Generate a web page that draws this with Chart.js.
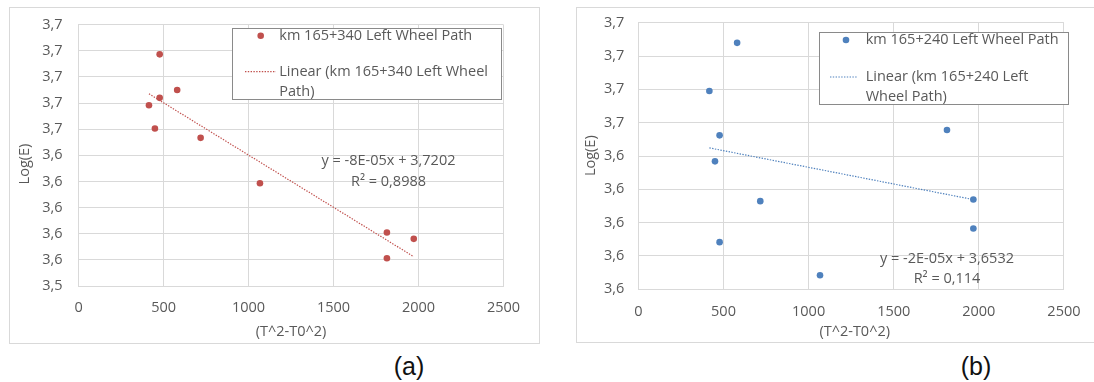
<!DOCTYPE html>
<html>
<head>
<meta charset="utf-8">
<script src="https://cdn.jsdelivr.net/npm/chart.js@4.4.1/dist/chart.umd.min.js"></script>
<style>
  html, body { margin: 0; padding: 0; background: #fff; }
  body { width: 1094px; height: 382px; position: relative; overflow: hidden; font-family: "Open Sans", sans-serif; }
  .frame { position: absolute; border: 1px solid #d9d9d9; box-sizing: border-box; }
  .wrap { position: absolute; top: 0; }
  .cap { position: absolute; font-family: "Liberation Sans", Arial, sans-serif; font-size: 25px; color: #111;
         transform: translateX(-50%); line-height: 1; white-space: nowrap; }
</style>
</head>
<body>
<div class="frame" style="left:9px;top:7px;width:531px;height:337px"></div>
<div class="frame" style="left:576px;top:7px;width:540px;height:336px"></div>
<div class="wrap" style="left:0;width:560px;height:350px"><canvas id="chartA" width="560" height="350"></canvas></div>
<div class="wrap" style="left:560px;width:534px;height:350px"><canvas id="chartB" width="534" height="350"></canvas></div>
<div class="cap" style="left:409px;top:354px">(a)</div>
<div class="cap" style="left:976px;top:354px">(b)</div>

<script>
// ---- data -------------------------------------------------------------
const xTickLabels = ['0', '500', '1000', '1500', '2000', '2500'];
const yTickLabelsA = ['3,5', '3,6', '3,6', '3,6', '3,6', '3,6', '3,7', '3,7', '3,7', '3,7', '3,7'];
const yTickLabelsB = ['3,6', '3,6', '3,6', '3,6', '3,6', '3,7', '3,7', '3,7', '3,7'];

const xRange = [0, 2500, 500];
const yRangeA = [3.54, 3.74, 0.02];
const yRangeB = [3.56, 3.72, 0.02];

// km 165+340, left wheel path
const xA = [414, 449, 477, 477, 580, 718, 1067, 1814, 1814, 1972];
const yA = [3.6784, 3.6605, 3.7173, 3.6840, 3.6900, 3.6534, 3.6186, 3.5810, 3.5612, 3.5761];
const fitA = [-8e-5, 3.7202];          // slope, intercept
const r2A = '0,8988';

// km 165+240, left wheel path
const xB = [417, 450, 477, 477, 580, 716, 1067, 1813, 1968, 1968];
const yB = [3.6790, 3.6368, 3.6524, 3.5883, 3.7079, 3.6129, 3.5684, 3.6556, 3.6139, 3.5965];
const fitB = [-2e-5, 3.6532];
const r2B = '0,114';

const nameA = 'km 165+340 Left Wheel Path';
const nameB = 'km 165+240 Left Wheel Path';
const xTitle = '(T^2-T0^2)';
const yTitle = 'Log(E)';

// ---- helpers ----------------------------------------------------------
const FONT = '"Open Sans", sans-serif';
const TEXT = '#595959';
const GRID = '#d9d9d9';

function points(xs, ys) { return xs.map((x, i) => ({ x: x, y: ys[i] })); }
function fitLine(xs, fit) {
  const lo = Math.min(...xs), hi = Math.max(...xs);
  return [{ x: lo, y: fit[1] + fit[0] * lo }, { x: hi, y: fit[1] + fit[0] * hi }];
}
function fmtNum(v) { return String(v).replace('.', ','); }
function equation(fit) {
  const m = fit[0].toExponential(0).toUpperCase().replace(/E([+-])(\d)$/, 'E$10$2');
  return 'y = ' + m + 'x + ' + fmtNum(fit[1]);
}

// Draws the boxed legend, the trendline equation and the axis titles.
const notesPlugin = {
  id: 'notes',
  afterDraw(chart, args, o) {
    const ctx = chart.ctx;
    const dsPts = chart.data.datasets[0];
    const dsFit = chart.data.datasets[1];
    ctx.save();
    // legend box
    const b = o.box;
    ctx.fillStyle = '#fff';
    ctx.fillRect(b[0], b[1], b[2] - b[0], b[3] - b[1]);
    ctx.strokeStyle = '#8a8a8a';
    ctx.lineWidth = 1;
    ctx.strokeRect(Math.round(b[0]) + 0.5, Math.round(b[1]) + 0.5, Math.round(b[2] - b[0]), Math.round(b[3] - b[1]));
    // legend symbols
    ctx.fillStyle = dsPts.backgroundColor;
    ctx.beginPath();
    ctx.arc(o.markX, o.rows[0], 3.3, 0, Math.PI * 2);
    ctx.fill();
    ctx.strokeStyle = dsFit.borderColor;
    ctx.lineWidth = 1.2;
    ctx.setLineDash([1.4, 1.4]);
    ctx.beginPath();
    ctx.moveTo(o.dash[0], o.rows[1]);
    ctx.lineTo(o.dash[1], o.rows[1]);
    ctx.stroke();
    ctx.setLineDash([]);
    // legend text
    ctx.fillStyle = TEXT;
    ctx.font = '14.5px ' + FONT;
    ctx.textBaseline = 'middle';
    ctx.textAlign = 'left';
    o.lines.forEach((t, i) => ctx.fillText(t, o.textX, o.rows[i]));
    // trendline equation
    ctx.textAlign = 'center';
    ctx.fillText(o.eq[0], o.eqX, o.eqY[0]);
    ctx.fillText(o.eq[1], o.eqX, o.eqY[1]);
    // axis titles
    ctx.font = '14.5px ' + FONT;
    ctx.fillText(xTitle, o.xTitle[0], o.xTitle[1]);
    ctx.translate(o.yTitle[0], o.yTitle[1]);
    ctx.rotate(-Math.PI / 2);
    ctx.fillText(yTitle, 0, 0);
    ctx.restore();
  }
};

function makeChart(id, cfg) {
  return new Chart(document.getElementById(id), {
    type: 'scatter',
    data: {
      datasets: [
        {
          label: cfg.name,
          data: points(cfg.xs, cfg.ys),
          backgroundColor: cfg.color,
          borderColor: cfg.color,
          pointRadius: 3.3,
          pointBorderWidth: 0,
          pointHoverRadius: 3.3
        },
        {
          label: 'Linear (' + cfg.name + ')',
          data: fitLine(cfg.xs, cfg.fit),
          showLine: true,
          borderColor: cfg.color,
          borderWidth: 1.2,
          borderDash: [1.4, 1.4],
          pointRadius: 0,
          fill: false
        }
      ]
    },
    options: {
      responsive: false,
      animation: false,
      events: [],
      layout: { padding: { left: 0, top: cfg.area.top, right: cfg.w - cfg.area.right, bottom: 0 } },
      plugins: {
        legend: { display: false },
        tooltip: { enabled: false },
        notes: cfg.notes
      },
      scales: {
        x: {
          type: 'linear',
          min: xRange[0], max: xRange[1],
          afterFit(s) { s.height = cfg.h - cfg.area.bottom; },
          grid: { color: GRID, drawTicks: false, lineWidth: 1 },
          border: { color: GRID },
          ticks: {
            stepSize: xRange[2],
            padding: cfg.xPad,
            color: TEXT,
            font: { family: FONT, size: 14.5 },
            callback: (v, i) => xTickLabels[i] ?? String(v)
          }
        },
        y: {
          type: 'linear',
          min: cfg.yRange[0], max: cfg.yRange[1],
          afterFit(s) { s.width = cfg.area.left; },
          grid: { color: GRID, drawTicks: false, lineWidth: 1 },
          border: { color: GRID },
          ticks: {
            stepSize: cfg.yRange[2],
            padding: cfg.yPad,
            color: TEXT,
            font: { family: FONT, size: 14.5 },
            callback: (v, i) => cfg.yLabels[i] ?? fmtNum(v.toFixed(1))
          }
        }
      }
    },
    plugins: [notesPlugin]
  });
}

makeChart('chartA', {
  w: 560, h: 350,
  name: nameA, xs: xA, ys: yA, fit: fitA, color: '#c0504d',
  yRange: yRangeA, yLabels: yTickLabelsA,
  area: { left: 78.6, right: 503.5, top: 21.7, bottom: 286 },
  xPad: 13.5, yPad: 16,
  notes: {
    box: [232.3, 28.3, 501, 99.3],
    markX: 260.7, dash: [245, 276], textX: 279.3,
    rows: [35.7, 71.7, 91.7],
    lines: [nameA, 'Linear (km 165+340 Left Wheel', 'Path)'],
    eq: [equation(fitA), 'R² = ' + r2A], eqX: 388.5, eqY: [160.7, 181.7],
    xTitle: [291, 332], yTitle: [25, 164]
  }
});

makeChart('chartB', {
  w: 534, h: 350,
  name: nameB, xs: xB, ys: yB, fit: fitB, color: '#4f81bd',
  yRange: yRangeB, yLabels: yTickLabelsB,
  area: { left: 78.4, right: 511, top: 21.7, bottom: 289.3 },
  xPad: 13.5, yPad: 14,
  notes: {
    box: [259.3, 32.3, 508.3, 104],
    markX: 286, dash: [270, 297], textX: 305.7,
    rows: [40, 77, 97],
    lines: [nameB, 'Linear (km 165+240 Left', 'Wheel Path)'],
    eq: [equation(fitB), 'R² = ' + r2B], eqX: 387, eqY: [259, 279.3],
    xTitle: [294.7, 332], yTitle: [30.8, 155.7]
  }
});
</script>
</body>
</html>
